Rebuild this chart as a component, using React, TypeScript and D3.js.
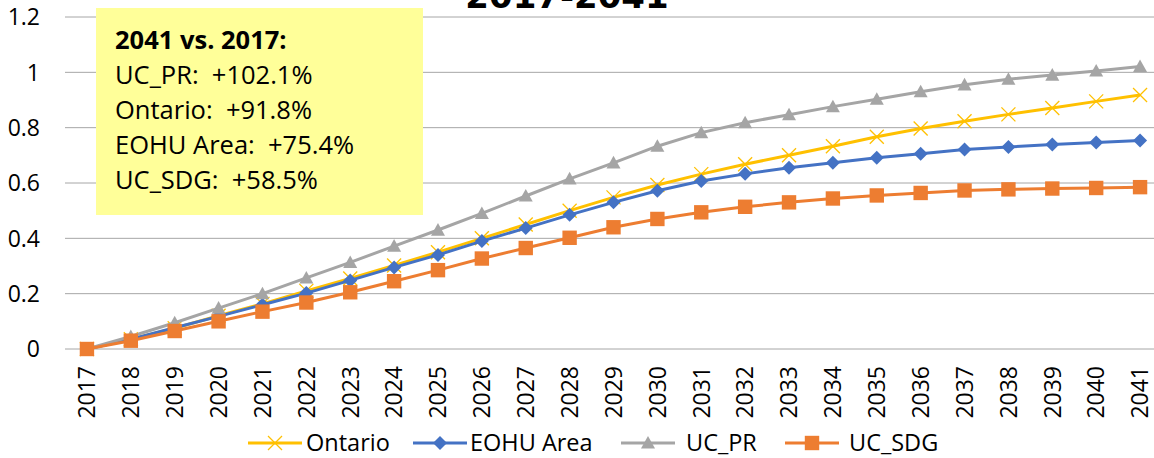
import React from "react";
import * as d3 from "d3";

const years = d3.range(2017, 2042).map(String);
const ontario = [0, 0.035, 0.075, 0.12, 0.163, 0.21, 0.255, 0.302, 0.35, 0.4, 0.45, 0.5, 0.548, 0.593, 0.632, 0.668, 0.7, 0.733, 0.767, 0.797, 0.823, 0.848, 0.871, 0.895, 0.918];
const eohu = [0, 0.035, 0.077, 0.118, 0.16, 0.202, 0.248, 0.295, 0.34, 0.39, 0.437, 0.485, 0.53, 0.572, 0.607, 0.633, 0.655, 0.673, 0.691, 0.706, 0.721, 0.73, 0.739, 0.746, 0.754];
const ucpr = [0, 0.045, 0.095, 0.148, 0.2, 0.257, 0.313, 0.372, 0.43, 0.49, 0.553, 0.615, 0.673, 0.733, 0.782, 0.818, 0.847, 0.876, 0.903, 0.93, 0.955, 0.975, 0.99, 1.005, 1.021];
const ucsdg = [0, 0.03, 0.065, 0.1, 0.135, 0.168, 0.205, 0.245, 0.285, 0.327, 0.365, 0.402, 0.44, 0.47, 0.494, 0.514, 0.53, 0.544, 0.555, 0.564, 0.573, 0.577, 0.58, 0.582, 0.585];
const yTicks = [0, 0.2, 0.4, 0.6, 0.8, 1, 1.2];
const yTickLabels = ["0", "0.2", "0.4", "0.6", "0.8", "1", "1.2"];
const title = "2017-2041";
const boxLines = ["UC_PR:  +102.1%", "Ontario:  +91.8%", "EOHU Area:  +75.4%", "UC_SDG:  +58.5%"];
const boxHeader = "2041 vs. 2017:";

const series = [
  { name: "Ontario", values: ontario, color: "#FFC000", marker: "x" },
  { name: "EOHU Area", values: eohu, color: "#4472C4", marker: "diamond" },
  { name: "UC_PR", values: ucpr, color: "#A5A5A5", marker: "triangle" },
  { name: "UC_SDG", values: ucsdg, color: "#ED7D31", marker: "square" },
];

const FONT = "'Open Sans', 'Noto Sans', sans-serif";

function Marker({ type, x, y, color }: { type: string; x: number; y: number; color: string }) {
  if (type === "x") {
    const s = 7;
    return (
      <g stroke={color} strokeWidth={1.3}>
        <line x1={x - s} y1={y - s} x2={x + s} y2={y + s} />
        <line x1={x - s} y1={y + s} x2={x + s} y2={y - s} />
      </g>
    );
  }
  if (type === "diamond") {
    const s = 7;
    return <path d={`M${x},${y - s}L${x + s},${y}L${x},${y + s}L${x - s},${y}Z`} fill={color} />;
  }
  if (type === "triangle") {
    const s = 7;
    return <path d={`M${x},${y - s}L${x + s},${y + s * 0.8}L${x - s},${y + s * 0.8}Z`} fill={color} />;
  }
  const s = 7.2;
  return <rect x={x - s} y={y - s} width={2 * s} height={2 * s} fill={color} />;
}

export default function App() {
  const W = 1154, H = 458;
  const left = 65, right = 1162;
  const x = d3.scaleBand().domain(years).range([left, right]);
  const y = d3.scaleLinear().domain([0, 1.2]).range([349, 17]);
  const cx = (yr: string) => (x(yr) as number) + x.bandwidth() / 2;
  const line = d3.line<number>().x((_, i) => cx(years[i])).y((d) => y(d));

  const legendItems = [
    { lx: 248, tx: 306 },
    { lx: 413, tx: 470 },
    { lx: 621, tx: 686 },
    { lx: 785, tx: 849 },
  ];
  const ly = 443;

  return (
    <svg width={W} height={H} style={{ position: "absolute", left: 0, top: 0, background: "#fff" }} fontFamily={FONT}>
      <rect width={W} height={H} fill="#fff" />
      {yTicks.map((t, i) => (
        <g key={t}>
          <line x1={left} x2={right} y1={y(t)} y2={y(t)} stroke="#A6A6A6" strokeWidth={1} />
          <text x={40} y={y(t)} dy="0.36em" textAnchor="end" fontSize={23} fill="#000">
            {yTickLabels[i]}
          </text>
        </g>
      ))}
      {years.map((yr) => (
        <text key={yr} transform={`translate(${cx(yr)},366) rotate(-90)`} dy="0.36em" textAnchor="end" fontSize={23} fill="#000">
          {yr}
        </text>
      ))}
      <text x={567} y={8} textAnchor="middle" fontSize={34} fontWeight="bold" fontFamily="'DejaVu Sans', sans-serif">
        {title}
      </text>
      <rect x={96} y={8} width={327} height={207} fill="#FFFF99" />
      <text x={115} y={49} fontSize={25.5} fontWeight="bold">{boxHeader}</text>
      {boxLines.map((l, i) => (
        <text key={l} x={115} y={84 + i * 35} fontSize={25.5} style={{ whiteSpace: "pre" }}>
          {l}
        </text>
      ))}
      {series.map((s) => (
        <g key={s.name}>
          <path d={line(s.values) || ""} fill="none" stroke={s.color} strokeWidth={3} />
          {s.values.map((v, i) => (
            <Marker key={i} type={s.marker} x={cx(years[i])} y={y(v)} color={s.color} />
          ))}
        </g>
      ))}
      {series.map((s, i) => {
        const it = legendItems[i];
        return (
          <g key={s.name}>
            <line x1={it.lx} x2={it.lx + 54} y1={ly} y2={ly} stroke={s.color} strokeWidth={3} />
            <Marker type={s.marker} x={it.lx + 27} y={ly} color={s.color} />
            <text x={it.tx} y={ly} dy="0.36em" fontSize={23.5} fill="#000">{s.name}</text>
          </g>
        );
      })}
    </svg>
  );
}
